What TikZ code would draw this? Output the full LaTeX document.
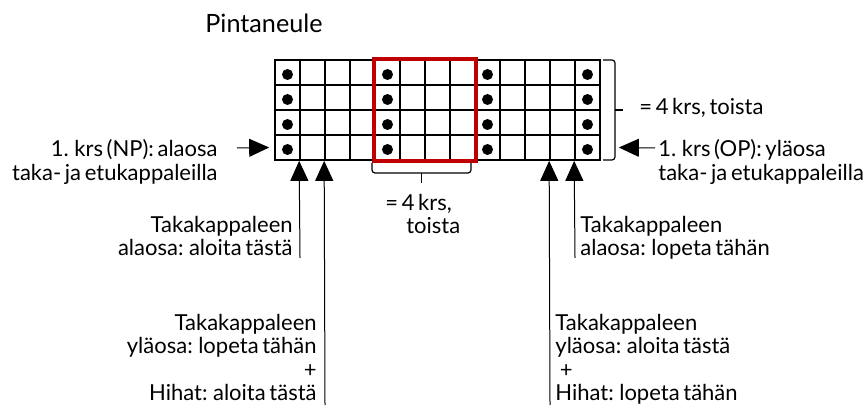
\documentclass[tikz,border=0pt]{standalone}
\usepackage{fontspec}
\setmainfont{Lato}[WordSpace=0.65]
\usepackage{xcolor}
\usepackage{tikz}
\usetikzlibrary{arrows.meta, positioning}
\definecolor{boxred}{HTML}{C00000}
\tikzset{
    cell/.style={
        draw=black,
        line width=0.85pt,
        minimum size=12.5pt,
        inner sep=0pt,
    },
    redbox/.style={
        draw=boxred,
        line width=1.8pt,
    },
    pointer/.style={
        -{Triangle[length=10pt, width=9pt]},
        line width=0.5pt,
    },
    bracket/.style={
        line width=0.6pt,
        rounded corners=1.5pt,
    },
    note/.style={
        inner sep=0pt,
    },
}

\begin{document}
\begin{tikzpicture}[x=0.5pt, y=-0.5pt, font=\fontsize{11}{11.8}\selectfont]
    \useasboundingbox (0,0) rectangle (865,410);

    \node[note, font=\fontsize{12.6}{14}\selectfont] (title) at (264,23) {Pintaneule};

    % pattern grid
    \foreach \c in {0,...,12}
      \foreach \r in {0,...,3}
        \node[cell] (c\c-\r) at (287.5+25*\c, 72.5+25*\r) {};
    \foreach \c in {0,4,8,12}
      \foreach \r in {0,...,3}
        \fill ([yshift=-1pt]c\c-\r) circle (2.75pt);
    \draw[redbox] (c4-0.north west) rectangle (c7-3.south east);

    % braces
    \draw[bracket] (603,60) -| (615,160) -- (603,160);
    \draw[bracket] (615,110) -- (623,110);
    \draw[bracket] (372,163) |- (471,173) -- (471,163);
    \draw[bracket] (421.5,173) -- (421.5,183);

    \node[note, anchor=base west] (rows) at (639,115) {= 4 krs, toista};
    \node[note, anchor=north west, align=left] (repeat) at (385,193.5) {= 4 krs,\\\hspace*{0.95em}toista};

    % row labels
    \node[note, anchor=north east, align=right] (np) at (218,139) {1. krs (NP): alaosa\\taka- ja etukappaleilla};
    \node[note, anchor=north west, align=left] (op) at (658,139) {1. krs (OP): yläosa\\taka- ja etukappaleilla};

    \coordinate (npTail) at (237,148);
    \coordinate (opTail) at (655,148);
    \draw[pointer] (npTail) -- ([xshift=-2.5pt]c0-3.west);
    \draw[pointer] (opTail) -- ([xshift=9pt]c12-3.east);

    % stitch labels
    \node[note, anchor=north east, align=right] (backStart) at (293,215.5) {Takakappaleen\\alaosa: aloita tästä};
    \node[note, anchor=north east, align=right] (backTopEnd) at (317,313.5) {Takakappaleen\\yläosa: lopeta tähän\\+\\Hihat: aloita tästä};
    \node[note, anchor=north west, align=left] (backEnd) at (580,215.5) {Takakappaleen\\alaosa: lopeta tähän};
    \node[note, anchor=north west, align=left] (backTopStart) at (555,313.5) {Takakappaleen\\yläosa: aloita tästä\\\hspace*{0.2em}+\\Hihat: lopeta tähän};

    \coordinate (t1) at (300,258);
    \coordinate (t2) at (325,405);
    \coordinate (t11) at (550,405);
    \coordinate (t12) at (575,258);
    \draw[pointer] (t1) -- (c1-3.south west);
    \draw[pointer] (t2) -- (c2-3.south west);
    \draw[pointer] (t11) -- (c11-3.south west);
    \draw[pointer] (t12) -- (c12-3.south west);
\end{tikzpicture}
\end{document}
